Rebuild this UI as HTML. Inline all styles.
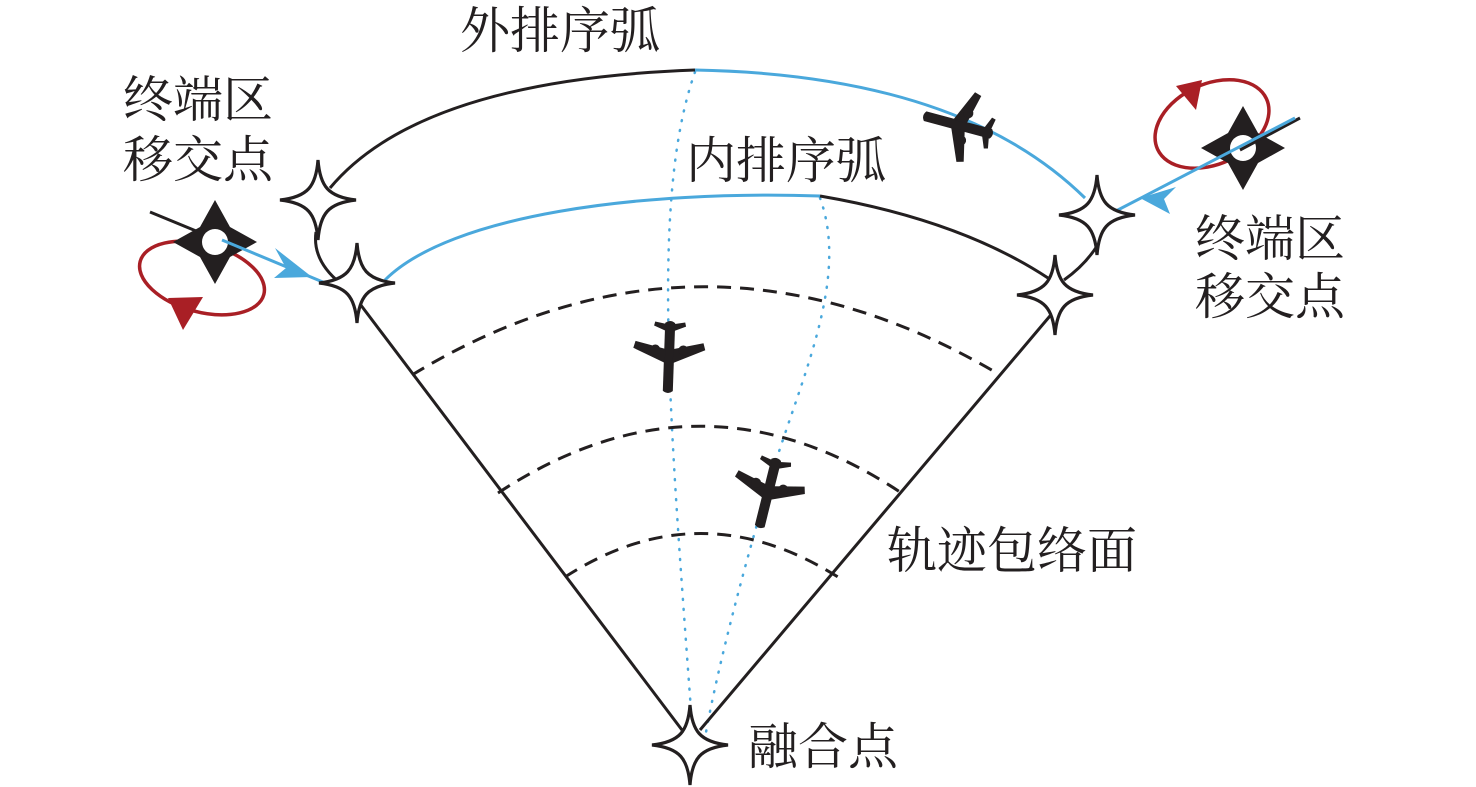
<!DOCTYPE html>
<html><head><meta charset="utf-8"><style>
html,body{margin:0;padding:0;background:#fff;}
svg{display:block}
text{font-family:"Liberation Serif","Noto Serif CJK SC","Noto Sans CJK SC",serif;font-size:50px;fill:#231f20}
</style></head><body>
<svg width="1476" height="787" viewBox="0 0 1476 787" xmlns="http://www.w3.org/2000/svg">
<defs>
<path id="st" d="M0,-40 C2,-14 10,-3 38,0 C10,3 2,14 0,40 C-2,14 -10,3 -38,0 C-10,-3 -2,-14 0,-40 Z" fill="#fff" stroke="#231f20" stroke-width="3.2" stroke-linejoin="miter"/>
<path id="hs" d="M0,-42 L15,-15 L42,0 L15,15 L0,42 L-15,15 L-42,0 L-15,-15 Z" fill="#231f20"/>
<g id="pl" fill="#231f20">
<path d="M-5,-34 Q0,-38 5,-34 L5,34 Q0,38 -5,34 Z"/>
<path d="M-4,-6 L-36,8 L-34,15 L-4,8 Z M4,-6 L36,8 L34,15 L4,8 Z"/>
<path d="M-4,26 L-16,31 L-15,35 L-4,33 Z M4,26 L16,31 L15,35 L4,33 Z"/>
<circle cx="-14" cy="7" r="5"/><circle cx="14" cy="7" r="5"/>
</g>
</defs>
<path d="M695,72 C650,200 670,420 693,738" fill="none" stroke="#4aa8dc" stroke-width="2.5" stroke-dasharray="1 9" stroke-linecap="round"/>
<path d="M820,198 C850,280 800,380 770,480 C740,580 715,680 705,738" fill="none" stroke="#4aa8dc" stroke-width="2.5" stroke-dasharray="1 9" stroke-linecap="round"/>
<line x1="357" y1="300" x2="682" y2="730" stroke="#231f20" stroke-width="3"/>
<line x1="1055" y1="310" x2="700" y2="730" stroke="#231f20" stroke-width="3"/>
<path d="M412,375 Q700,200 995,372" fill="none" stroke="#231f20" stroke-width="3" stroke-dasharray="14 9"/>
<path d="M498,493 Q700,360 900,492" fill="none" stroke="#231f20" stroke-width="3" stroke-dasharray="14 9"/>
<path d="M565,577 Q700,490 838,577" fill="none" stroke="#231f20" stroke-width="3" stroke-dasharray="14 9"/>
<path d="M330,188 Q420,80 695,70" fill="none" stroke="#231f20" stroke-width="3"/>
<path d="M695,70 Q960,75 1085,198" fill="none" stroke="#4aa8dc" stroke-width="3"/>
<path d="M385,280 C450,215 640,190 820,196" fill="none" stroke="#4aa8dc" stroke-width="3"/>
<path d="M820,196 Q960,220 1048,278" fill="none" stroke="#231f20" stroke-width="3"/>
<path d="M316,232 Q312,260 340,283" fill="none" stroke="#231f20" stroke-width="3"/>
<path d="M1097,246 Q1085,265 1064,280" fill="none" stroke="#231f20" stroke-width="3"/>
<line x1="150" y1="212" x2="218" y2="240" stroke="#231f20" stroke-width="3"/>
<ellipse cx="202" cy="278" rx="64" ry="34" transform="rotate(15 202 278)" fill="none" stroke="#a91f25" stroke-width="3.5"/>
<path d="M168,298 L203,297 L183,330 Z" fill="#a91f25"/>
<use href="#hs" x="215" y="242"/>
<circle cx="215" cy="242" r="13" fill="#fff"/>
<line x1="222" y1="240" x2="330" y2="285" stroke="#4aa8dc" stroke-width="3"/>
<path d="M312,277 L275,248 L286,268 L274,278 Z" fill="#4aa8dc"/>
<ellipse cx="1212" cy="124" rx="60" ry="40" transform="rotate(-25 1212 124)" fill="none" stroke="#a91f25" stroke-width="3.5"/>
<path d="M1176,86 L1202,80 L1196,110 Z" fill="#a91f25"/>
<use href="#hs" x="1243" y="148"/>
<circle cx="1243" cy="148" r="13" fill="#fff"/>
<line x1="1240" y1="150" x2="1300" y2="118" stroke="#231f20" stroke-width="3"/>
<line x1="1295" y1="118" x2="1112" y2="213" stroke="#4aa8dc" stroke-width="3"/>
<path d="M1140,198 L1176,187 L1164,199 L1170,214 Z" fill="#4aa8dc"/>
<use href="#st" x="318" y="200"/>
<use href="#st" x="357" y="283"/>
<use href="#st" x="1097" y="215"/>
<use href="#st" x="1055" y="295"/>
<use href="#st" x="690" y="745"/>
<use href="#pl" transform="translate(958,125) rotate(-75)"/>
<use href="#pl" transform="translate(669,357) rotate(182)"/>
<use href="#pl" transform="translate(768,493) rotate(194)"/>
<text x="460" y="48">外排序弧</text>
<text x="686" y="178">内排序弧</text>
<text x="123" y="117">终端区</text>
<text x="123" y="177">移交点</text>
<text x="1195" y="256">终端区</text>
<text x="1195" y="314">移交点</text>
<text x="887" y="568">轨迹包络面</text>
<text x="748" y="764">融合点</text>
</svg>
</body></html>
